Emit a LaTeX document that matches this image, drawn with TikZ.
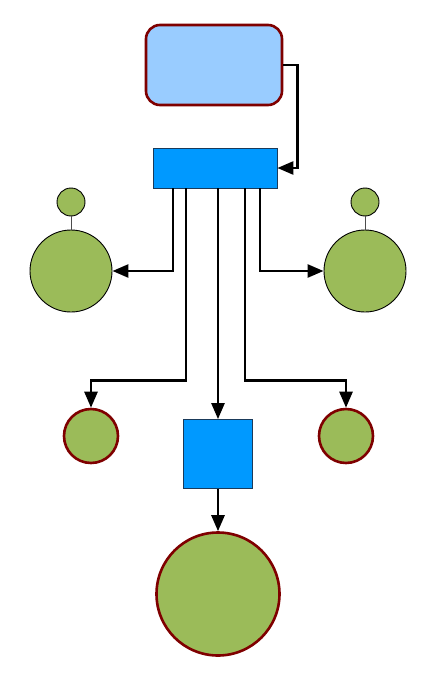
\documentclass[tikz,border=0pt]{standalone}
\usetikzlibrary{arrows.meta}
\definecolor{lblue}{HTML}{99CCFF}
\definecolor{dblue}{HTML}{0099FF}
\definecolor{navy}{HTML}{1A3A5A}
\definecolor{grn}{HTML}{9BBB59}
\definecolor{maroon}{HTML}{7F0000}
\begin{document}
\begin{tikzpicture}[x=1pt,y=-1pt,
  conn/.style={line width=2.6pt,-{Triangle[length=16pt,width=13pt]},line join=miter},
  topbox/.style={draw=maroon,line width=2.6pt,fill=lblue,rounded corners=14pt,minimum width=136pt,minimum height=80pt,inner sep=0pt},
  bluebox/.style={draw=navy,line width=0.8pt,fill=dblue,inner sep=0pt},
  gcirc/.style={circle,draw=black,line width=0.9pt,fill=grn,inner sep=0pt},
  rcirc/.style={circle,draw=maroon,line width=2.6pt,fill=grn,inner sep=0pt},
  link/.style={draw=black!70,line width=1pt}]
\useasboundingbox (0,0) rectangle (442,674);
\node[topbox] (top) at (214,65) {};
\node[bluebox,minimum width=124pt,minimum height=40pt] (bar) at (215,168) {};
\node[gcirc,minimum size=82pt] (lc) at (71,271) {};
\node[gcirc,minimum size=28pt] (ls) at (71,202) {};
\node[gcirc,minimum size=82pt] (rc) at (365,271) {};
\node[gcirc,minimum size=28pt] (rs) at (365,202) {};
\node[rcirc,minimum size=54pt] (lm) at (91,436) {};
\node[rcirc,minimum size=54pt] (rm) at (346,436) {};
\node[bluebox,minimum width=69pt,minimum height=69pt] (sq) at (218,454) {};
\node[rcirc,minimum size=123pt] (bc) at (218,594) {};
\draw[link] (ls) -- (lc);
\draw[link] (rs) -- (rc);
\draw[conn] (top.east) -- ++(14,0) |- (bar.east);
\draw[conn] ([xshift=-42pt]bar.south) |- (lc.east);
\draw[conn] ([xshift=45pt]bar.south) |- (rc.west);
\draw[conn] ([xshift=-29pt]bar.south) -- ++(0,192) -| (lm.north);
\draw[conn] ([xshift=30pt]bar.south) -- ++(0,192) -| (rm.north);
\draw[conn] ([xshift=3pt]bar.south) -- (sq.north);
\draw[conn] (sq.south) -- (bc.north);
\end{tikzpicture}
\end{document}
